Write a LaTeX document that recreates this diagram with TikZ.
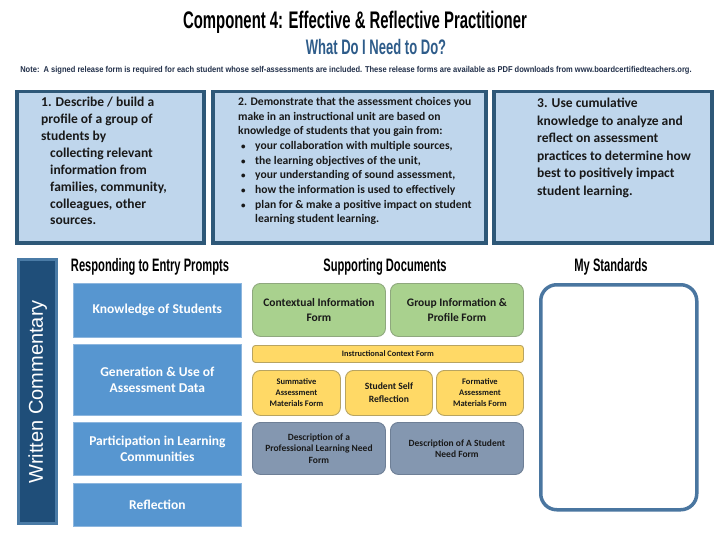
\documentclass[tikz,border=0pt]{standalone}
\usepackage{fontspec}
\setmainfont{Carlito}
\newfontfamily\condfont[FakeStretch=0.62]{Liberation Sans}
\newfontfamily\notefont[FakeStretch=0.885]{Liberation Sans}
\newfontfamily\arialfont{Liberation Sans}
\definecolor{topfill}{HTML}{BFD6EC}
\definecolor{topdraw}{HTML}{2E5878}
\definecolor{navy}{HTML}{1F4E79}
\definecolor{navyedge}{HTML}{4A7BA6}
\definecolor{pblue}{HTML}{5796D0}
\definecolor{pblueedge}{HTML}{8DB6DE}
\definecolor{gfill}{HTML}{A9D18E}
\definecolor{gdraw}{HTML}{8FA87E}
\definecolor{yfill}{HTML}{FFD966}
\definecolor{ydraw}{HTML}{B8A461}
\definecolor{sfill}{HTML}{8497B0}
\definecolor{sdraw}{HTML}{6E7F96}
\definecolor{stdraw}{HTML}{4A76A0}
\definecolor{subblue}{HTML}{2E5C8A}
\definecolor{notec}{HTML}{22304A}
\newcommand{\smbul}{\hspace*{3pt}\makebox[14pt][l]{\fontsize{9}{9}\selectfont\textbullet}}
\tikzset{
  topbox/.style={draw=topdraw, line width=3.5pt, fill=topfill, anchor=north west, inner sep=0pt},
  promptbox/.style={draw=pblueedge, line width=0.8pt, fill=pblue, anchor=north west, inner sep=0pt,
    text=white, align=center, font=\bfseries\fontsize{13.5}{15.5}\selectfont},
  docbox/.style={rounded corners=8pt, line width=0.9pt, anchor=north west, inner sep=0pt, align=center, text=black!90},
  greenbox/.style={docbox, draw=gdraw, fill=gfill, font=\bfseries\fontsize{11.5}{15}\selectfont},
  yellowbox/.style={docbox, draw=ydraw, fill=yfill},
  slatebox/.style={docbox, draw=sdraw, fill=sfill, font=\bfseries\fontsize{9.5}{11.3}\selectfont},
  header/.style={font=\condfont\bfseries\fontsize{18}{20}\selectfont, text=black},
  toptext/.style={anchor=north west, align=left, inner sep=0pt, text=black!90},
}
\begin{document}
\begin{tikzpicture}[x=1pt,y=-1pt]
\useasboundingbox[fill=white] (0,0) rectangle (720,540);

% titles
\node[font=\condfont\bfseries\fontsize{24}{26}\selectfont] (title) at (355,22) {Component 4: Effective \& Reflective Practitioner};
\node[font=\condfont\bfseries\fontsize{21}{24}\selectfont, text=subblue] (sub) at (376,47) {What Do I Need to Do?};
\node[font=\notefont\bfseries\fontsize{8.5}{10}\selectfont, text=notec] (note) at (356,70) {Note:\ \ A signed release form is required for each student whose self-assessments are included. These release forms are available as PDF downloads from www.boardcertifiedteachers.org.};

% top boxes
\node[topbox, minimum width=187pt, minimum height=151pt] (b1) at (15,90) {};
\node[topbox, minimum width=273pt, minimum height=151pt] (b2) at (211,90) {};
\node[topbox, minimum width=218pt, minimum height=151pt] (b3) at (492,90) {};

\node[toptext, font=\bfseries\fontsize{13.5}{16.9}\selectfont] (t1) at (41,97) {1. Describe / build a\\profile of a group of\\students by\\\hspace*{9pt}collecting relevant\\\hspace*{9pt}information from\\\hspace*{9pt}families, community,\\\hspace*{9pt}colleagues, other\\\hspace*{9pt}sources.};

\node[toptext, font=\bfseries\fontsize{11.6}{14.7}\selectfont] (t2) at (238,97) {2. Demonstrate that the assessment choices you\\make in an instructional unit are based on\\knowledge of students that you gain from:\\\smbul your collaboration with multiple sources,\\\smbul the learning objectives of the unit,\\\smbul your understanding of sound assessment,\\\smbul how the information is used to effectively\\\smbul plan for \& make a positive impact on student\\\hspace*{17pt}learning student learning.};

\node[toptext, font=\bfseries\fontsize{13.5}{17.5}\selectfont] (t3) at (537,98) {3. Use cumulative\\knowledge to analyze and\\reflect on assessment\\practices to determine how\\best to positively impact\\student learning.};

% written commentary bar
\node[draw=none, fill=navyedge, minimum width=41pt, minimum height=267pt, anchor=north west, inner sep=0pt] (wcout) at (17,258) {};
\node[fill=navy, minimum width=35pt, minimum height=261pt, inner sep=0pt] (wc) at (wcout.center) {};
\node[rotate=90, text=white, font=\arialfont\fontsize{20}{24}\selectfont] (wctext) at (wc.center) {Written Commentary};

% headers
\node[header] (h1) at (150,267) {Responding to Entry Prompts};
\node[header] (h2) at (385,267) {Supporting Documents};
\node[header] (h3) at (611,267) {My Standards};

% prompt boxes
\node[promptbox, minimum width=168pt, minimum height=54pt] (p1) at (73,283) {Knowledge of Students};
\node[promptbox, minimum width=168pt, minimum height=71pt] (p2) at (73,344) {Generation \& Use of\\Assessment Data};
\node[promptbox, minimum width=168pt, minimum height=53pt] (p3) at (73,422) {Participation in Learning\\Communities};
\node[promptbox, minimum width=168pt, minimum height=43pt] (p4) at (73,483) {Reflection};

% supporting documents
\node[greenbox, minimum width=133pt, minimum height=53pt] (d1) at (252,283) {Contextual Information\\Form};
\node[greenbox, minimum width=133pt, minimum height=53pt] (d2) at (390,283) {Group Information \&\\Profile Form};
\node[yellowbox, rounded corners=3pt, minimum width=271pt, minimum height=17pt, font=\bfseries\fontsize{8.3}{9}\selectfont] (d3) at (252,345) {Instructional Context Form};
\node[yellowbox, minimum width=88pt, minimum height=45pt, font=\bfseries\fontsize{8.5}{11}\selectfont] (d4) at (252,370) {Summative\\Assessment\\Materials Form};
\node[yellowbox, minimum width=87pt, minimum height=45pt, font=\bfseries\fontsize{9.6}{13}\selectfont] (d5) at (345,370) {Student Self\\Reflection};
\node[yellowbox, minimum width=87pt, minimum height=45pt, font=\bfseries\fontsize{8.5}{11}\selectfont] (d6) at (436,370) {Formative\\Assessment\\Materials Form};
\node[slatebox, minimum width=133pt, minimum height=52pt] (d7) at (252,422) {Description of a\\Professional Learning Need\\Form};
\node[slatebox, minimum width=133pt, minimum height=52pt] (d8) at (390,422) {Description of A Student\\Need Form};

% standards
\node[draw=stdraw, line width=3.5pt, rounded corners=16pt, fill=white, minimum width=156pt, minimum height=225pt, anchor=north west, inner sep=0pt] (std) at (539,283) {};
\end{tikzpicture}
\end{document}
